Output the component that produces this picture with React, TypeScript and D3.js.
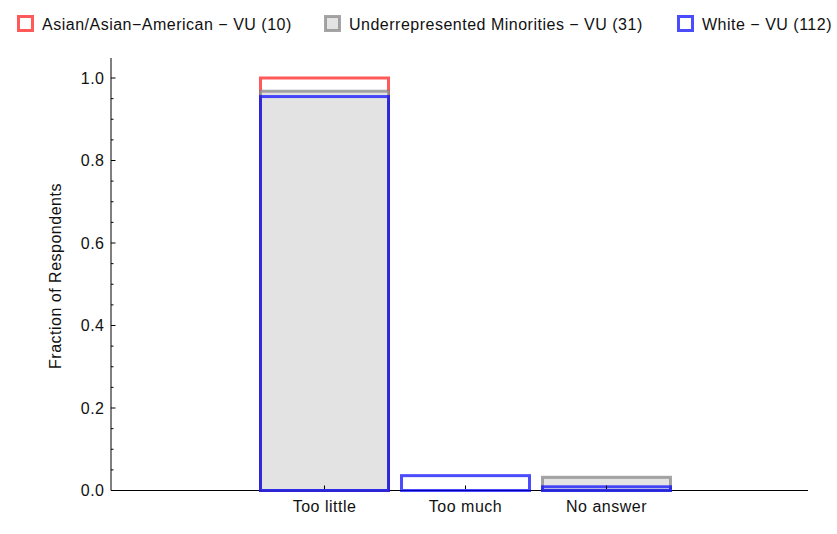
import React from "react";
import * as d3 from "d3";

const categories = ["Too little", "Too much", "No answer"];
const seriesNames = [
  "Asian/Asian\u2212American \u2212 VU (10)",
  "Underrepresented Minorities \u2212 VU (31)",
  "White \u2212 VU (112)",
];
const asianValues = [1.0, 0.0, 0.0];
const urmValues = [0.968, 0.0, 0.032];
const whiteValues = [0.955, 0.036, 0.009];
const yTicks = [0, 0.2, 0.4, 0.6, 0.8, 1.0];

const seriesStyles = [
  { stroke: "rgba(255,0,0,0.65)", fill: "none" },
  { stroke: "rgba(128,128,128,0.7)", fill: "#e3e3e3" },
  { stroke: "rgba(0,0,255,0.7)", fill: "none" },
];

export default function App() {
  const W = 837, H = 534;
  const x0 = 111, x1 = 808, yBase = 490.5, yTop = 78;
  const y = d3.scaleLinear().domain([0, 1]).range([yBase, yTop]);
  const x = d3.scaleLinear().domain([0, 1]).range([324.5, 465.5]);
  const barW = 128;
  const series = [asianValues, urmValues, whiteValues];
  const minor = d3.range(0, 1.0001, 0.05).filter((v) => Math.round(v * 100) % 20 !== 0);
  const font = "'Liberation Sans', Arial, Helvetica, sans-serif";
  const ls = 0.5;
  const legendX = [17, 324, 677];

  return (
    <svg width={W} height={H} style={{ position: "absolute", left: 0, top: 0, background: "#fff" }}>
      {seriesNames.map((n, i) => (
        <g key={n}>
          <rect x={legendX[i] + 1.5} y={16.5} width={14} height={14}
            fill={i === 1 ? "#e3e3e3" : "#fff"} stroke={seriesStyles[i].stroke} strokeWidth={3} />
          <text x={legendX[i] + 25} y={29.5} fontFamily={font} fontSize={16} letterSpacing={ls} fill="#111">{n}</text>
        </g>
      ))}
      <line x1={x0} x2={x1} y1={yBase} y2={yBase} stroke="#000" strokeWidth={1} />
      {series.map((vals, si) => (
        <g key={si}>
          {vals.map((v, ci) => (
            <rect key={ci} x={x(ci) - barW / 2} y={y(v)} width={barW} height={Math.max(0, y(0) - y(v))}
              fill={seriesStyles[si].fill} stroke={seriesStyles[si].stroke} strokeWidth={3} />
          ))}
        </g>
      ))}
      <line x1={x0} x2={x0} y1={yBase} y2={58} stroke="#000" strokeWidth={1} />
      {yTicks.map((t) => (
        <g key={t}>
          <line x1={x0} x2={x0 + 4.5} y1={y(t)} y2={y(t)} stroke="#000" strokeWidth={1} />
          <text x={x0 - 6.5} y={y(t) + 5.5} textAnchor="end" fontFamily={font} fontSize={16} letterSpacing={ls} fill="#111">
            {t.toFixed(1)}
          </text>
        </g>
      ))}
      {minor.map((t) => (
        <line key={t} x1={x0} x2={x0 + 2.5} y1={y(t)} y2={y(t)} stroke="#000" strokeWidth={1} />
      ))}
      {categories.map((c, i) => (
        <g key={c}>
          <line x1={x(i)} x2={x(i)} y1={yBase - 1.5} y2={yBase - 5} stroke="#000" strokeWidth={1} />
          <text x={x(i)} y={511.5} textAnchor="middle" fontFamily={font} fontSize={16} letterSpacing={ls} fill="#111">{c}</text>
        </g>
      ))}
      <text transform={`translate(61,276) rotate(-90)`} textAnchor="middle"
        fontFamily={font} fontSize={16} letterSpacing={ls} fill="#111">Fraction of Respondents</text>
    </svg>
  );
}
